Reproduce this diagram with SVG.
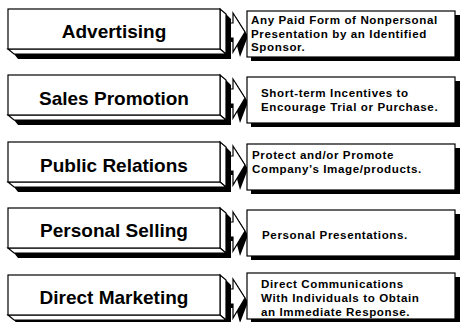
<svg xmlns="http://www.w3.org/2000/svg" width="463" height="322" viewBox="0 0 463 322">
<defs>
<style>
.face{fill:#fff;stroke:#000;stroke-width:1.2}
.sh{fill:#000}
.lbl{font-family:"Liberation Sans",Arial,sans-serif;font-weight:bold;font-size:19px;text-anchor:middle;fill:#000}
.desc{font-family:"Liberation Sans",Arial,sans-serif;font-weight:bold;font-size:11.6px;letter-spacing:0.6px;fill:#000}
</style>
<g id="leftbox">
<polygon class="sh" points="226,5 231,10 231,50 18,50 14,45 226,45"/>
<polygon class="face" points="220,0 226,5 226,45 220,40"/>
<polygon class="face" points="8,40 220,40 226,45 14,45"/>
<rect class="face" x="8" y="0" width="212" height="40"/>
</g>
<g id="arrow">
<polygon class="sh" points="224,18 236,18 236,8 248,27 240,48 236,33 224,33"/>
<polygon class="face" points="221,14 233,14 233,4 245,23 233,43 233,29 221,29"/>
</g>
</defs>
<g id="connectors">
<use href="#arrow" x="0" y="9"/>
<use href="#arrow" x="0" y="75"/>
<use href="#arrow" x="0" y="142"/>
<use href="#arrow" x="0" y="208"/>
<use href="#arrow" x="0" y="275"/>
</g>
<g id="advertising">
<use href="#leftbox" x="0" y="9"/>
<text class="lbl" x="114" y="38">Advertising</text>
</g>
<g id="advertising-desc">
<rect class="sh" x="251" y="15" width="209" height="46"/>
<rect class="face" x="247" y="11" width="208" height="46"/>
<text class="desc" x="251" y="24">Any Paid Form of Nonpersonal</text>
<text class="desc" x="251" y="37.5">Presentation by an Identified</text>
<text class="desc" x="251" y="51">Sponsor.</text>
</g>
<g id="sales-promotion">
<use href="#leftbox" x="0" y="75"/>
<text class="lbl" x="114" y="105">Sales Promotion</text>
</g>
<g id="sales-promotion-desc">
<rect class="sh" x="251" y="81" width="209" height="46"/>
<rect class="face" x="247" y="77" width="208" height="46"/>
<text class="desc" x="261" y="97">Short-term Incentives to</text>
<text class="desc" x="261" y="111">Encourage Trial or Purchase.</text>
</g>
<g id="public-relations">
<use href="#leftbox" x="0" y="142"/>
<text class="lbl" x="114" y="172">Public Relations</text>
</g>
<g id="public-relations-desc">
<rect class="sh" x="251" y="148" width="209" height="46"/>
<rect class="face" x="247" y="144" width="208" height="46"/>
<text class="desc" x="252" y="159">Protect and/or Promote</text>
<text class="desc" x="252" y="173">Company’s Image/products.</text>
</g>
<g id="personal-selling">
<use href="#leftbox" x="0" y="208"/>
<text class="lbl" x="114" y="237">Personal Selling</text>
</g>
<g id="personal-selling-desc">
<rect class="sh" x="251" y="214" width="209" height="46"/>
<rect class="face" x="247" y="210" width="208" height="46"/>
<text class="desc" x="262" y="239">Personal Presentations.</text>
</g>
<g id="direct-marketing">
<use href="#leftbox" x="0" y="275"/>
<text class="lbl" x="114" y="304">Direct Marketing</text>
</g>
<g id="direct-marketing-desc">
<rect class="sh" x="251" y="277" width="209" height="46"/>
<rect class="face" x="247" y="273" width="208" height="46"/>
<text class="desc" x="261" y="288">Direct Communications</text>
<text class="desc" x="261" y="302">With Individuals to Obtain</text>
<text class="desc" x="261" y="316">an Immediate Response.</text>
</g>
</svg>
